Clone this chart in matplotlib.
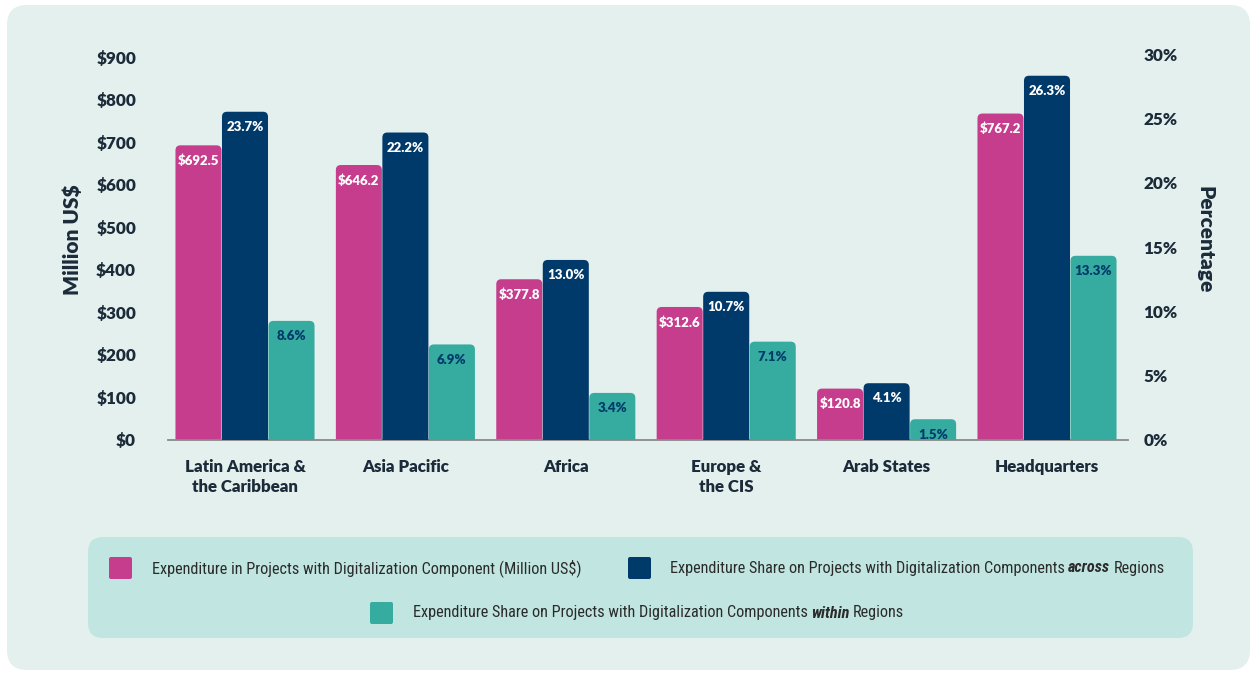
import matplotlib
matplotlib.use("Agg")
import matplotlib.pyplot as plt
from matplotlib.patches import FancyBboxPatch
from matplotlib.transforms import IdentityTransform
from matplotlib import font_manager
import numpy as np

# ---------------- data ----------------
regions = ["Latin America &\nthe Caribbean", "Asia Pacific", "Africa",
           "Europe &\nthe CIS", "Arab States", "Headquarters"]
expenditure = [692.5, 646.2, 377.8, 312.6, 120.8, 767.2]          # Million US$
share_across = [23.7, 22.2, 13.0, 10.7, 4.1, 26.3]               # %
share_within = [8.6, 6.9, 3.4, 7.1, 1.5, 13.3]                   # %
left_ticks = [0, 100, 200, 300, 400, 500, 600, 700, 800, 900]
right_ticks = [0, 5, 10, 15, 20, 25, 30]

PINK = "#c63d8d"
NAVY = "#003a6b"
TEAL = "#36ab9f"
TXT = "#1c2b39"
PANEL = "#e4f0ee"
LEGBG = "#c1e6e1"
BOLD = 800

W, H = 1257, 673
fig = plt.figure(figsize=(W / 100, H / 100), dpi=100, facecolor="white")

def fx(px):
    return px / W

def fy(py):
    return 1 - py / H

# outer rounded panel (display pixels)
fig.patches.append(FancyBboxPatch((7 + 20, H - 670 + 20), 1250 - 7 - 40, 670 - 5 - 40,
                                  boxstyle="round,pad=20", transform=IdentityTransform(),
                                  facecolor=PANEL, edgecolor="none", zorder=-10, figure=fig))
# legend rounded box
fig.patches.append(FancyBboxPatch((88 + 15, H - 638 + 15), 1193 - 88 - 30, 638 - 537 - 30,
                                  boxstyle="round,pad=15", transform=IdentityTransform(),
                                  facecolor=LEGBG, edgecolor="none", zorder=-9, figure=fig))

ax = fig.add_axes([fx(168), (H - 440) / H, 960 / W, 400 / H])
ax.set_facecolor("none")
ax2 = ax.twinx()
ax2.set_facecolor("none")

x = np.arange(len(regions))
bw = 0.287
off = 0.29
YL = 940.0
YR = 28.88
ax.set_ylim(0, YL)
ax2.set_ylim(0, YR)
ax.set_xlim(-0.48, 5.505)

px_per_x = 960 / (5.505 + 0.48)
rx = 5 / px_per_x
ry_l = 5 / (400 / YL)
ry_r = 5 / (400 / YR)

def rounded(axis, bars, color, ry):
    for r in bars:
        r.set_visible(False)
        p = FancyBboxPatch((r.get_x(), -ry), r.get_width(), r.get_height() + ry,
                           boxstyle=f"round,pad=0,rounding_size={rx}",
                           mutation_aspect=ry / rx, facecolor=color, edgecolor="none")
        axis.add_patch(p)

b1 = ax.bar(x - off, expenditure, bw, color=PINK)
b2 = ax2.bar(x, share_across, bw, color=NAVY)
b3 = ax2.bar(x + off, share_within, bw, color=TEAL)
rounded(ax, b1, PINK, ry_l)
rounded(ax2, b2, NAVY, ry_r)
rounded(ax2, b3, TEAL, ry_r)

lab_font = dict(family="Lato", weight=BOLD, fontsize=9.5)
for xi, v in zip(x - off, expenditure):
    ax.annotate(f"${v:.1f}", (xi, v), xytext=(0, -11), textcoords="offset points",
                ha="center", va="center", color="white", **lab_font)
for xi, v in zip(x, share_across):
    ax2.annotate(f"{v:.1f}%", (xi, v), xytext=(0, -11), textcoords="offset points",
                 ha="center", va="center", color="white", **lab_font)
for xi, v in zip(x + off, share_within):
    ax2.annotate(f"{v:.1f}%", (xi, v), xytext=(0, -11), textcoords="offset points",
                 ha="center", va="center", color=NAVY, **lab_font)

# axes styling
for a in (ax, ax2):
    for s in a.spines.values():
        s.set_visible(False)
ax.spines["bottom"].set_visible(True)
ax.spines["bottom"].set_color("#8a8a8a")
ax.spines["bottom"].set_linewidth(1.3)
ax.spines["bottom"].set_zorder(5)

ax.set_yticks(left_ticks)
ax.set_yticklabels([f"${t}" for t in left_ticks])
ax.tick_params(axis="y", length=0, pad=23)
ax.set_xticks(x)
ax.set_xticklabels(regions)
ax.tick_params(axis="x", length=0, pad=14)
for t in ax.get_yticklabels() + ax.get_xticklabels():
    t.set_fontfamily("Lato")
    t.set_fontweight(BOLD)
    t.set_fontsize(12.3)
    t.set_color(TXT)
for t in ax.get_xticklabels():
    t.set_fontsize(12.2)
    t.set_linespacing(1.3)

ax2.set_yticks([])

sec = ax.secondary_yaxis("right", functions=(lambda d: d * 30 / 907, lambda p: p * 907 / 30))
for s in sec.spines.values():
    s.set_visible(False)
sec.set_yticks(right_ticks)
sec.set_yticklabels([f"{t}%" for t in right_ticks])
sec.tick_params(axis="y", length=0, pad=11)
for t in sec.get_yticklabels():
    t.set_fontfamily("Lato")
    t.set_fontweight(BOLD)
    t.set_fontsize(12.3)
    t.set_color(TXT)

ax.set_ylabel("Million US$", family="Lato", weight=BOLD, fontsize=15, color=TXT,
              va="center")
ax.yaxis.set_label_coords((72 - 168) / 960, 0.5, transform=ax.transAxes)
sec.set_ylabel("Percentage", family="Lato", weight=BOLD, fontsize=15, color=TXT,
               rotation=-90, va="center")
sec.yaxis.set_label_coords((1205 - 168) / 960, 0.5, transform=ax.transAxes)

# ---------------- legend ----------------
installed = {f.name for f in font_manager.fontManager.ttflist}
leg_fam = [f for f in ["Liberation Sans Narrow", "Roboto Condensed", "Open Sans Condensed",
                       "Lato"] if f in installed] or ["DejaVu Sans"]
LEGTXT = "#2b2b2b"
renderer = fig.canvas.get_renderer()

# pick a font size so that the first entry spans ~431 px as in the reference
probe = fig.text(0, 0, "Expenditure in Projects with Digitalization Component (Million US$)",
                 family=leg_fam, fontsize=12)
pw = probe.get_window_extent(renderer).width
probe.remove()
fs = 12 * 431 / pw

def square(x0, ycen, color):
    fig.patches.append(FancyBboxPatch((x0 + 2, H - ycen - 11 + 2), 23 - 4, 22 - 4,
                                      boxstyle="round,pad=2", transform=IdentityTransform(),
                                      facecolor=color, edgecolor="none", figure=fig))

def pieces(x0, ycen, parts):
    xpos = x0
    for txt, style in parts:
        kw = dict(family=leg_fam, fontsize=fs, color=LEGTXT, va="center", ha="left")
        if style == "bi":
            kw.update(weight="bold", style="italic")
        t = fig.text(fx(xpos), fy(ycen), txt, **kw)
        bb = t.get_window_extent(renderer)
        xpos = bb.x1 + 3.5

square(109, 568, PINK)
pieces(152, 568, [("Expenditure in Projects with Digitalization Component (Million US$)", "n")])
square(628, 568, NAVY)
pieces(670, 568, [("Expenditure Share on Projects with Digitalization Components", "n"),
                  ("across", "bi"), ("Regions", "n")])
square(370, 613, TEAL)
pieces(413, 613, [("Expenditure Share on Projects with Digitalization Components", "n"),
                  ("within", "bi"), ("Regions", "n")])

fig.savefig("out.png", dpi=100, facecolor="white")
